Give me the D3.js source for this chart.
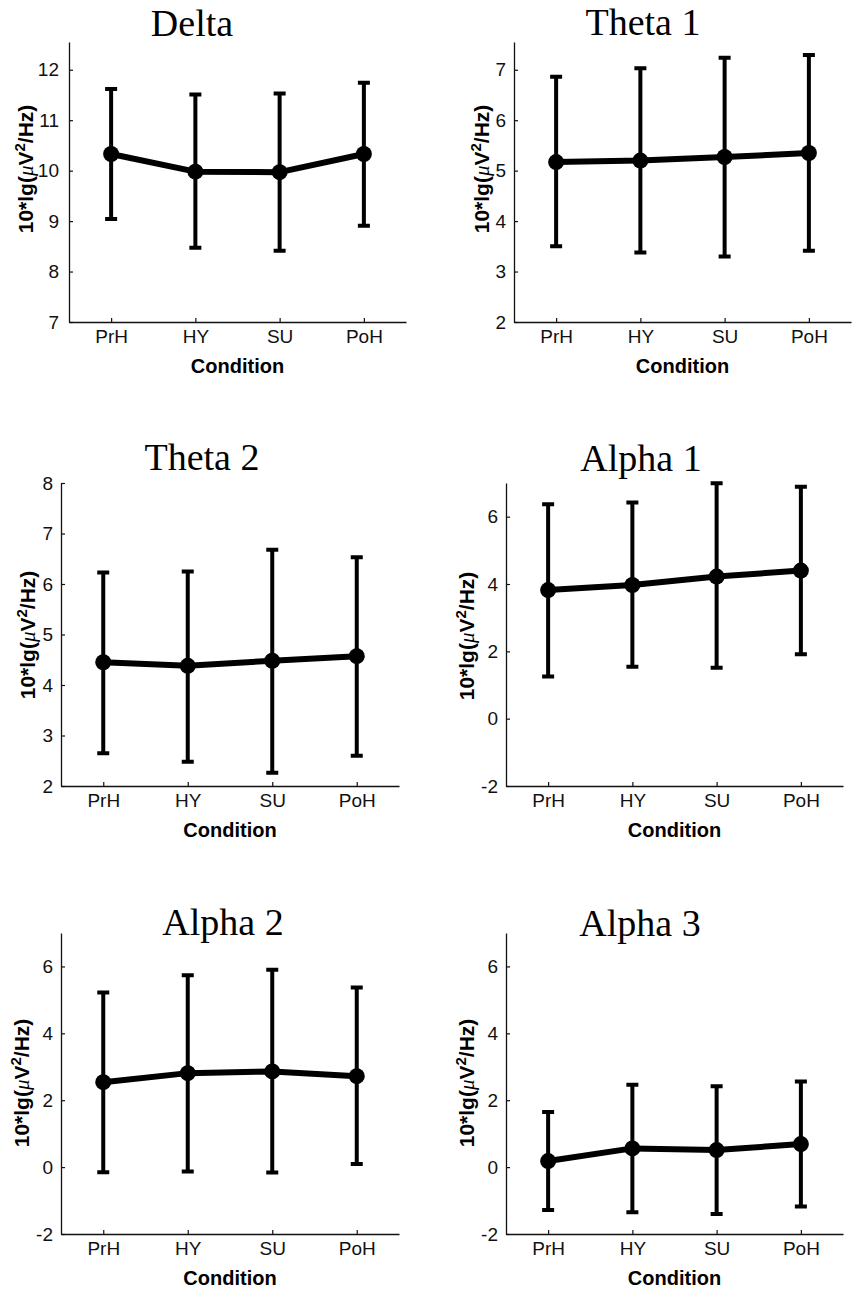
<!DOCTYPE html>
<html>
<head>
<meta charset="utf-8">
<script src="https://cdn.jsdelivr.net/npm/d3@7"></script>
<style>
  body { margin: 0; background: #fff; }
  svg { display: block; }
</style>
</head>
<body>
<div id="chart"></div>
<script>
// Conditions on the x axis
const conditions = ["PrH", "HY", "SU", "PoH"];

// Mean and error bar ends per band
const meanDelta  = [10.33, 9.98, 9.97, 10.33];
const upperDelta = [11.62, 11.51, 11.53, 11.74];
const lowerDelta = [9.04, 8.47, 8.41, 8.91];

const meanTheta1  = [5.17, 5.20, 5.27, 5.35];
const upperTheta1 = [6.86, 7.03, 7.24, 7.29];
const lowerTheta1 = [3.50, 3.38, 3.30, 3.41];

const meanTheta2  = [4.45, 4.38, 4.48, 4.57];
const upperTheta2 = [6.23, 6.25, 6.68, 6.53];
const lowerTheta2 = [2.65, 2.48, 2.26, 2.60];

const meanAlpha1  = [3.82, 3.97, 4.22, 4.40];
const upperAlpha1 = [6.37, 6.42, 6.99, 6.89];
const lowerAlpha1 = [1.25, 1.54, 1.51, 1.91];

const meanAlpha2  = [2.54, 2.81, 2.86, 2.72];
const upperAlpha2 = [5.22, 5.74, 5.90, 5.37];
const lowerAlpha2 = [-0.15, -0.13, -0.16, 0.09];

const meanAlpha3  = [0.18, 0.56, 0.51, 0.69];
const upperAlpha3 = [1.65, 2.46, 2.42, 2.56];
const lowerAlpha3 = [-1.28, -1.35, -1.40, -1.18];

// y axis ranges and tick labels
const domainDelta = [7, 12.55];
const ticksDelta = [7, 8, 9, 10, 11, 12];
const domainTheta1 = [2, 7.55];
const ticksTheta1 = [2, 3, 4, 5, 6, 7];
const domainTheta2 = [2, 8];
const ticksTheta2 = [2, 3, 4, 5, 6, 7, 8];
const domainAlpha = [-2, 7];
const ticksAlpha = [-2, 0, 2, 4, 6];

// panel layout (pixel boxes of each axes)
const panels = [
  { title: "Delta",   mean: meanDelta,  upper: upperDelta,  lower: lowerDelta,  dom: domainDelta,  ticks: ticksDelta,
    x0: 69, x1: 406, y0: 322, y1: 42, tx: 192, ty: 36, lx: 26, ly: 169, pad: 10 },
  { title: "Theta 1", mean: meanTheta1, upper: upperTheta1, lower: lowerTheta1, dom: domainTheta1, ticks: ticksTheta1,
    x0: 514, x1: 851, y0: 322, y1: 42, tx: 643, ty: 35, lx: 482, ly: 169, pad: 8 },
  { title: "Theta 2", mean: meanTheta2, upper: upperTheta2, lower: lowerTheta2, dom: domainTheta2, ticks: ticksTheta2,
    x0: 61, x1: 399, y0: 786, y1: 483, tx: 202, ty: 470, lx: 28, ly: 635, pad: 8 },
  { title: "Alpha 1", mean: meanAlpha1, upper: upperAlpha1, lower: lowerAlpha1, dom: domainAlpha,  ticks: ticksAlpha,
    x0: 506, x1: 843, y0: 786, y1: 483, tx: 641, ty: 471, lx: 467, ly: 636, pad: 8 },
  { title: "Alpha 2", mean: meanAlpha2, upper: upperAlpha2, lower: lowerAlpha2, dom: domainAlpha,  ticks: ticksAlpha,
    x0: 61, x1: 399, y0: 1234, y1: 933, tx: 223, ty: 935, lx: 22, ly: 1083, pad: 8 },
  { title: "Alpha 3", mean: meanAlpha3, upper: upperAlpha3, lower: lowerAlpha3, dom: domainAlpha,  ticks: ticksAlpha,
    x0: 506, x1: 843, y0: 1234, y1: 933, tx: 640, ty: 936, lx: 467, ly: 1083, pad: 8 }
];

const svg = d3.select("#chart")
  .append("svg")
  .attr("width", 852)
  .attr("height", 1293)
  .style("background", "#fff");

panels.forEach(p => {
  const g = svg.append("g");

  // scales
  const x = d3.scaleLinear().domain([0.5, 4.5]).range([p.x0, p.x1]);
  const y = d3.scaleLinear().domain(p.dom).range([p.y0, p.y1]);

  // axes (ticks point inward like matlab), plain hyphen for negatives
  const yAxis = g.append("g")
    .attr("transform", "translate(" + p.x0 + ",0)")
    .call(d3.axisLeft(y).tickValues(p.ticks).tickFormat(d => String(d))
      .tickSizeInner(-4).tickSizeOuter(0).tickPadding(p.pad));
  const xAxis = g.append("g")
    .attr("transform", "translate(0," + p.y0 + ")")
    .call(d3.axisBottom(x).tickValues([1, 2, 3, 4]).tickFormat(d => conditions[d - 1])
      .tickSizeInner(-4).tickSizeOuter(0).tickPadding(8));

  [yAxis, xAxis].forEach(a => {
    a.select(".domain").attr("stroke", "#111").attr("stroke-width", 1.3);
    a.selectAll(".tick line").attr("stroke", "#111").attr("stroke-width", 1.2);
    a.selectAll(".tick text")
      .attr("fill", "#111")
      .style("font-family", "'Liberation Sans', Arial, sans-serif")
      .style("font-size", "19px");
  });

  // error bars
  const idx = d3.range(conditions.length);
  g.selectAll(".ebar")
    .data(idx)
    .enter().append("path")
    .attr("class", "ebar")
    .attr("d", i => {
      const cx = x(i + 1), yl = y(p.lower[i]), yu = y(p.upper[i]);
      return "M" + (cx - 6) + "," + yu + "H" + (cx + 6) +
             "M" + cx + "," + yu + "V" + yl +
             "M" + (cx - 6) + "," + yl + "H" + (cx + 6);
    })
    .attr("fill", "none")
    .attr("stroke", "#000")
    .attr("stroke-width", 4);

  // mean line
  const line = d3.line()
    .x(i => x(i + 1))
    .y(i => y(p.mean[i]));
  g.append("path")
    .datum(idx)
    .attr("d", line)
    .attr("fill", "none")
    .attr("stroke", "#000")
    .attr("stroke-width", 6)
    .attr("stroke-linejoin", "round");

  // markers
  g.selectAll(".dot")
    .data(idx)
    .enter().append("circle")
    .attr("class", "dot")
    .attr("cx", i => x(i + 1))
    .attr("cy", i => y(p.mean[i]))
    .attr("r", 8)
    .attr("fill", "#000");

  // title
  g.append("text")
    .attr("x", p.tx)
    .attr("y", p.ty)
    .attr("text-anchor", "middle")
    .style("font-family", "'Liberation Serif', 'Times New Roman', serif")
    .style("font-size", "38px")
    .text(p.title);

  // x label
  g.append("text")
    .attr("x", (p.x0 + p.x1) / 2)
    .attr("y", p.y0 + 51)
    .attr("text-anchor", "middle")
    .style("font-family", "'Liberation Sans', Arial, sans-serif")
    .style("font-size", "20px")
    .style("font-weight", "bold")
    .text("Condition");

  // y label
  const yl = g.append("text")
    .attr("transform", "translate(" + (p.lx + 7) + "," + p.ly + ") rotate(-90)")
    .attr("text-anchor", "middle")
    .style("font-family", "'Liberation Sans', Arial, sans-serif")
    .style("font-size", "21px")
    .style("font-weight", "bold");
  yl.append("tspan").text("10*lg(");
  yl.append("tspan")
    .style("font-family", "'Liberation Serif', 'Times New Roman', serif")
    .style("font-style", "italic")
    .style("font-weight", "normal")
    .text("\u03BC");
  yl.append("tspan").text("V");
  yl.append("tspan").attr("dy", -8).style("font-size", "15px").text("2");
  yl.append("tspan").attr("dy", 8).text("/Hz)");
});
</script>
</body>
</html>
